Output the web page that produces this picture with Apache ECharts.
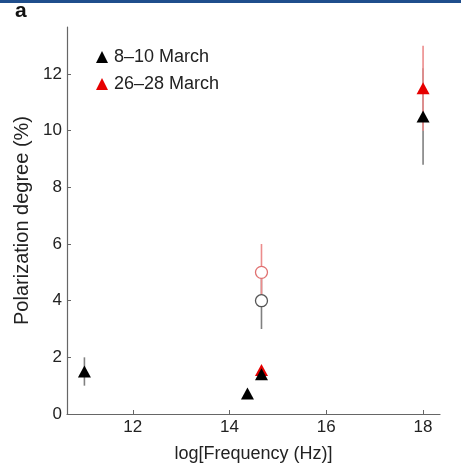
<!DOCTYPE html>
<html><head><meta charset="utf-8">
<script src="https://cdn.jsdelivr.net/npm/echarts@6/dist/echarts.min.js"></script>
<style>html,body{margin:0;padding:0;background:#fff}#c{width:461px;height:476px}</style>
</head><body><div id="c"></div>
<script>
// Data
const yTicks = [0, 2, 4, 6, 8, 10, 12];
const xTicks = [12, 14, 16, 18];
// 8–10 March (triangles)
const blackTriX = [11.0, 14.37, 14.66, 18.0];
const blackTriY = [1.5, 0.72, 1.4, 10.5];
const blackTriLo = [1.0, null, null, 8.8];
const blackTriHi = [2.0, null, null, 12.2];
// 8–10 March (open circle)
const blackCircX = [14.66];
const blackCircY = [4.0];
const blackCircLo = [3.0];
const blackCircHi = [5.0];
// 26–28 March (triangles)
const redTriX = [14.66, 18.0];
const redTriY = [1.55, 11.5];
const redTriLo = [null, 10.0];
const redTriHi = [null, 13.0];
// 26–28 March (open circle)
const redCircX = [14.66];
const redCircY = [5.0];
const redCircLo = [4.0];
const redCircHi = [6.0];

const FONT = 'Liberation Sans, Arial, sans-serif';

function pts(xs, ys) { return xs.map((x, i) => [x, ys[i]]); }
function bars(xs, lo, hi) {
  const out = [];
  xs.forEach((x, i) => { if (lo[i] != null && hi[i] != null) out.push([x, lo[i], hi[i]]); });
  return out;
}
function errSeries(data, color) {
  return {
    type: 'custom', silent: true, z: 1,
    data: data,
    encode: { x: 0, y: [1, 2] },
    renderItem: function (params, api) {
      const a = api.coord([api.value(0), api.value(1)]);
      const b = api.coord([api.value(0), api.value(2)]);
      return { type: 'line', shape: { x1: a[0], y1: a[1], x2: b[0], y2: b[1] },
        style: { stroke: color, lineWidth: 1.6 } };
    }
  };
}

const chart = echarts.init(document.getElementById('c'), null, { renderer: 'canvas' });
chart.setOption({
  animation: false,
  backgroundColor: '#fff',
  graphic: [
    { type: 'rect', shape: { x: 0, y: 0, width: 461, height: 3 }, style: { fill: '#1f4e8c' }, z: 10 },
    { type: 'text', left: 15, top: 1, style: { text: 'a', font: 'bold 21px ' + FONT, fill: '#111' } }
  ],
  grid: { left: 67, right: 21, top: 27, bottom: 62 },
  legend: {
    data: [
      { name: '8–10 March', icon: 'triangle', itemStyle: { color: '#000' } },
      { name: '26–28 March', icon: 'triangle', itemStyle: { color: '#e60000' } }
    ],
    orient: 'vertical', left: 91, top: 43, itemWidth: 12, itemHeight: 12, itemGap: 9,
    textStyle: { fontFamily: FONT, fontSize: 18, color: '#222', padding: [0, 0, 0, 1] },
    selectedMode: false
  },
  xAxis: {
    type: 'value', min: 10.64, max: 18.35,
    name: 'log[Frequency (Hz)]', nameLocation: 'middle', nameGap: 31,
    nameTextStyle: { fontFamily: FONT, fontSize: 18, color: '#222' },
    axisLine: { lineStyle: { color: '#666', width: 1.2 } },
    axisTick: { inside: true, length: 4, customValues: xTicks, lineStyle: { color: '#666' } },
    axisLabel: { customValues: xTicks, fontFamily: FONT, fontSize: 17, color: '#222', margin: 5 },
    splitLine: { show: false }
  },
  yAxis: {
    type: 'value', min: 0, max: 13.66,
    name: 'Polarization degree (%)', nameLocation: 'middle', nameGap: 32,
    nameTextStyle: { fontFamily: FONT, fontSize: 20, color: '#222' },
    axisLine: { show: true, lineStyle: { color: '#666', width: 1.2 } },
    axisTick: { show: true, inside: true, length: 4, customValues: yTicks, lineStyle: { color: '#666' } },
    axisLabel: { customValues: yTicks, fontFamily: FONT, fontSize: 17, color: '#222', margin: 5 },
    splitLine: { show: false }
  },
  series: [
    errSeries(bars(blackTriX, blackTriLo, blackTriHi), '#808080'),
    errSeries(bars(blackCircX, blackCircLo, blackCircHi), '#808080'),
    errSeries(bars(redTriX, redTriLo, redTriHi), '#ec8c8c'),
    errSeries(bars(redCircX, redCircLo, redCircHi), '#ec8c8c'),
    { name: '26–28 March', type: 'scatter', data: pts(redTriX, redTriY), symbol: 'triangle', symbolSize: [13, 12],
      itemStyle: { color: '#e60000', opacity: 1 }, z: 3 },
    { name: '8–10 March', type: 'scatter', data: pts(blackTriX, blackTriY), symbol: 'triangle', symbolSize: [13, 12],
      itemStyle: { color: '#000', opacity: 1 }, z: 3 },
    { name: 'circ8', type: 'scatter', data: pts(blackCircX, blackCircY), symbol: 'circle', symbolSize: 12,
      itemStyle: { color: '#fff', borderColor: '#555', borderWidth: 1.3, opacity: 1 }, z: 4 },
    { name: 'circ26', type: 'scatter', data: pts(redCircX, redCircY), symbol: 'circle', symbolSize: 12,
      itemStyle: { color: '#fff', borderColor: '#e07070', borderWidth: 1.3, opacity: 1 }, z: 4 }
  ]
});
</script></body></html>
